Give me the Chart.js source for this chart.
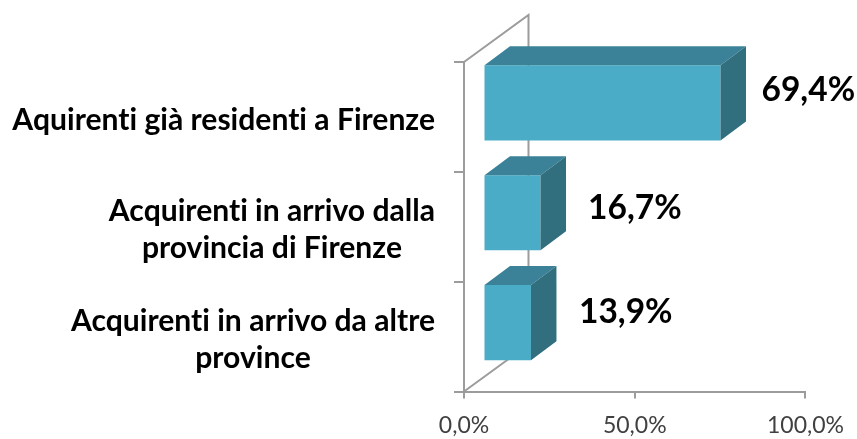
<!DOCTYPE html>
<html>
<head>
<meta charset="utf-8">
<style>html,body{margin:0;padding:0;background:#fff}canvas{display:block}</style>
<script src="https://cdn.jsdelivr.net/npm/chart.js@4"></script>
</head>
<body>
<canvas id="c" width="857" height="439"></canvas>
<script>
const categories = [
  ["Aquirenti già residenti a Firenze"],
  ["Acquirenti in arrivo dalla", "provincia di Firenze"],
  ["Acquirenti in arrivo da altre", "province"]
];
const shares = [69.4, 16.7, 13.9];
const axisTicks = [0, 50, 100];

const fmt = v => v.toFixed(1).replace('.', ',') + '%';
const FRONT = '#4AACC7', TOP = '#3B8298', SIDE = '#316F7F', AXIS = '#9c9c9c';
const shift = {x: 19.5, y: -14}, depth = {x: 25.5, y: -19};
const valueGap = [41, 47.5, 48], valueRise = [-13, -5, -10];

const faux3d = {
  id: 'faux3d',
  beforeDatasetsDraw(chart) {
    const {ctx, chartArea: a} = chart;
    const dx = shift.x * 2 + depth.x, dy = shift.y * 2 + depth.y;
    ctx.save();
    ctx.strokeStyle = AXIS; ctx.lineWidth = 2;
    ctx.beginPath();
    ctx.moveTo(a.left, a.top); ctx.lineTo(a.left + dx, a.top + dy);
    ctx.lineTo(a.left + dx, a.bottom + dy); ctx.lineTo(a.left, a.bottom);
    ctx.stroke();
    ctx.restore();
    ctx.save();
    ctx.translate(shift.x, shift.y);
  },
  afterDatasetsDraw(chart) {
    const {ctx} = chart;
    chart.getDatasetMeta(0).data.forEach(b => {
      const h = b.height / 2, l = b.base, r = b.x, t = b.y - h, u = b.y + h;
      ctx.fillStyle = TOP;
      ctx.beginPath();
      ctx.moveTo(l, t); ctx.lineTo(l + depth.x, t + depth.y);
      ctx.lineTo(r + depth.x, t + depth.y); ctx.lineTo(r, t); ctx.closePath(); ctx.fill();
      ctx.fillStyle = SIDE;
      ctx.beginPath();
      ctx.moveTo(r, t); ctx.lineTo(r + depth.x, t + depth.y);
      ctx.lineTo(r + depth.x, u + depth.y); ctx.lineTo(r, u); ctx.closePath(); ctx.fill();
    });
    ctx.restore();

    // value labels
    ctx.save();
    ctx.font = 'bold 33.5px Lato';
    ctx.fillStyle = '#000';
    ctx.textAlign = 'left'; ctx.textBaseline = 'middle';
    chart.getDatasetMeta(0).data.forEach((b, i) => {
      ctx.fillText(fmt(shares[i]), b.x + shift.x + valueGap[i], b.y + shift.y + valueRise[i]);
    });
    ctx.restore();

    // category labels, each block centred on its own widest line
    const y = chart.scales.y;
    ctx.save();
    ctx.font = 'bold 30.1px Lato';
    ctx.textRendering = 'optimizeSpeed';
    ctx.fillStyle = '#000';
    ctx.textAlign = 'center'; ctx.textBaseline = 'middle';
    categories.forEach((lines, i) => {
      const w = Math.max(...lines.map(s => ctx.measureText(s).width));
      const cx = 435 - w / 2, cy = y.getPixelForTick(i) + 3;
      lines.forEach((s, k) => ctx.fillText(s, cx, cy + (k - (lines.length - 1) / 2) * 37));
    });
    ctx.restore();
  }
};

new Chart(document.getElementById('c'), {
  type: 'bar',
  plugins: [faux3d],
  data: {
    labels: categories,
    datasets: [{
      data: shares,
      backgroundColor: FRONT,
      borderWidth: 0,
      barPercentage: 0.684,
      categoryPercentage: 1
    }]
  },
  options: {
    indexAxis: 'y',
    responsive: false,
    animation: false,
    events: [],
    layout: {padding: {top: 62, right: 50.5, left: 0, bottom: 0}},
    plugins: {legend: {display: false}, tooltip: {enabled: false}, title: {display: false}},
    scales: {
      x: {
        type: 'linear', min: axisTicks[0], max: axisTicks[2],
        afterBuildTicks(s) { s.ticks = axisTicks.map(value => ({value})); },
        afterFit(s) { s.height = 47.5; },
        grid: {drawOnChartArea: false, drawTicks: true, tickLength: 7, color: AXIS, lineWidth: 2},
        border: {color: AXIS, width: 2},
        ticks: {
          callback: v => fmt(v), color: '#404040', padding: 13, maxRotation: 0,
          autoSkip: false, font: {family: 'Lato', size: 23}
        }
      },
      y: {
        type: 'category',
        afterFit(s) { s.width = 464; },
        grid: {drawOnChartArea: false, drawTicks: true, tickLength: 10, color: AXIS, lineWidth: 2},
        border: {color: AXIS, width: 2},
        ticks: {display: false}
      }
    }
  }
});
</script>
</body>
</html>
